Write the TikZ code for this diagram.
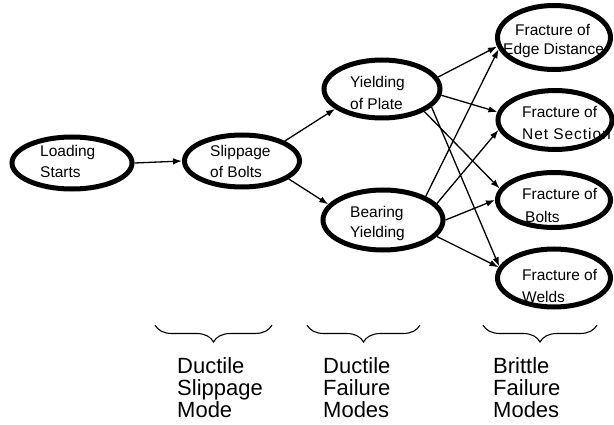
\documentclass[tikz,border=0pt]{standalone}
\usepackage{fontspec}
\setmainfont{Liberation Sans}
\usetikzlibrary{arrows.meta,decorations.pathreplacing,shapes.geometric}
\tikzset{
  stage/.style={draw, ellipse, line width=5pt, inner sep=0pt},
  nodetext/.style={anchor=base west, inner sep=0pt, font=\fontsize{15.5}{18}\selectfont},
  modetext/.style={anchor=base west, inner sep=0pt, font=\fontsize{22}{22}\selectfont},
  conn/.style={line width=1.3pt, -{Latex[length=9pt,width=6.5pt]}},
  bracestyle/.style={line width=1.1pt, decorate, decoration={brace, mirror, amplitude=17pt}}
}
\begin{document}
\begin{tikzpicture}[x=1pt,y=1pt]
\useasboundingbox (0,0) rectangle (614,424);
% texts inside stages
\node[nodetext] (tL1) at (40,267) {Loading};
\node[nodetext] (tL2) at (40,246) {Starts};
\node[nodetext] (tS1) at (210,267) {Slippage};
\node[nodetext] (tS2) at (210,246) {of Bolts};
\node[nodetext] (tYP1) at (350,336) {Yielding};
\node[nodetext] (tYP2) at (350,314) {of Plate};
\node[nodetext] (tBY1) at (350,207) {Bearing};
\node[nodetext] (tBY2) at (350,186) {Yielding};
\node[nodetext] (tFE1) at (515,388) {Fracture of};
\node[nodetext] (tFE2) at (503,369) {Edge Distance};
\node[nodetext] (tFN1) at (522,306) {Fracture of};
\node[nodetext] (tFN2) at (522,284) {\addfontfeature{LetterSpace=6}Net Section};
\node[nodetext] (tFB1) at (522,224) {Fracture of};
\node[nodetext] (tFB2) at (525,201) {Bolts};
\node[nodetext] (tFW1) at (522,144) {Fracture of};
\node[nodetext] (tFW2) at (522,122) {Welds};
% stage ellipses
\node[stage, minimum width=120pt, minimum height=52pt] (L) at (72,261) {};
\node[stage, minimum width=115pt, minimum height=52pt] (S) at (242,263) {};
\node[stage, minimum width=116pt, minimum height=58pt] (YP) at (382,335) {};
\node[stage, minimum width=120pt, minimum height=60pt] (BY) at (383,204) {};
\node[stage, minimum width=113pt, minimum height=64pt] (FE) at (554,386.5) {};
\node[stage, minimum width=114pt, minimum height=59pt] (FN) at (555,304) {};
\node[stage, minimum width=113pt, minimum height=55pt] (FB) at (554,224) {};
\node[stage, minimum width=113pt, minimum height=58pt] (FW) at (554,146) {};
% connectors
\draw[conn] (L.0) -- (S.180);
\draw[conn] (S.25) -- (YP.203);
\draw[conn] (S.339) -- (BY.164);
\draw[conn] (YP.12) -- (FE.189);
\draw[conn] (YP.354) -- (FN.172);
\draw[conn] (YP.332) -- (FB.168);
\draw[conn] (YP.340) -- (FW.168);
\draw[conn] (BY.29) -- (FE.192);
\draw[conn] (BY.17) -- (FN.190);
\draw[conn] (BY.0) -- (FB.180);
\draw[conn] (BY.343) -- (FW.169);
% braces
\coordinate (b1a) at (155,99); \coordinate (b1b) at (272,99);
\coordinate (b2a) at (307,99); \coordinate (b2b) at (420,99);
\coordinate (b3a) at (483,99); \coordinate (b3b) at (597,99);
\draw[bracestyle] (b1a) -- (b1b);
\draw[bracestyle] (b2a) -- (b2b);
\draw[bracestyle] (b3a) -- (b3b);
% mode labels
\node[modetext] (m1a) at (177,51) {Ductile};
\node[modetext] (m1b) at (177,29) {Slippage};
\node[modetext] (m1c) at (177,7) {Mode};
\node[modetext] (m2a) at (323,51) {Ductile};
\node[modetext] (m2b) at (323,29) {Failure};
\node[modetext] (m2c) at (323,7) {Modes};
\node[modetext] (m3a) at (493,51) {Brittle};
\node[modetext] (m3b) at (493,29) {Failure};
\node[modetext] (m3c) at (493,7) {Modes};
\end{tikzpicture}
\end{document}
